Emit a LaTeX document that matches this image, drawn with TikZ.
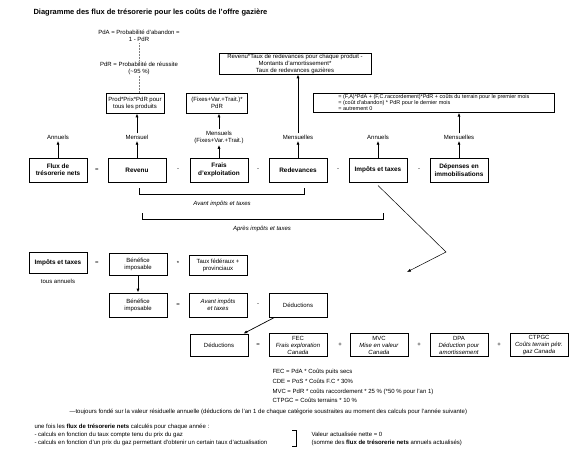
\documentclass[tikz,border=0pt]{standalone}
\usepackage{fontspec}
\setmainfont{Liberation Sans}
\usepackage{tikz}
\usetikzlibrary{arrows.meta}

\tikzset{
  txt/.style={inner sep=0pt, outer sep=1.5pt, align=center, font=\fontsize{6}{7}\selectfont},
  box/.style={draw, line width=0.7pt, minimum width=58pt, minimum height=22pt, inner sep=1pt, align=center, font=\fontsize{6}{7}\selectfont},
  flowbox/.style={box, line width=1pt, minimum height=24pt, font=\fontsize{6.4}{7.4}\selectfont\bfseries},
  upto/.style={-{Latex[length=4pt,width=3pt]}, line width=0.9pt},
  pointer/.style={-{Latex[length=4pt,width=3pt]}, line width=0.5pt},
}

\begin{document}
\begin{tikzpicture}[x=1pt,y=-1pt]
\useasboundingbox (0,0) rectangle (580,452);

\node[anchor=west, font=\fontsize{7.5}{8.5}\selectfont\bfseries] (titre) at (30,12) {Diagramme des flux de trésorerie pour les coûts de l'offre gazière};

\node[txt] (pda) at (139,36) {PdA = Probabilité d'abandon =\\1 - PdR};
\node[txt] (pdr) at (139,68) {PdR = Probabilité de réussite\\(\textasciitilde 95~\%)};
\node[box, minimum height=20pt] (prod) at (135,103) {Prod*Prix*PdR pour\\tous les produits};
\node[box, minimum height=20pt, minimum width=61pt] (fixes) at (217,103) {(Fixes+Var.+Trait.)*\\PdR};
\node[box, minimum width=152pt, minimum height=21pt, inner sep=0.5pt] (redevform) at (295,63.5) {Revenu*Taux de redevances pour chaque produit -\\Montants d'amortissement*\\Taux de redevances gazières};
\node[box, minimum width=241pt, minimum height=18pt, inner sep=1.2pt, align=left, anchor=west, font=\fontsize{5.5}{6}\selectfont] (depform) at (313,103) {= (F,A)*PdA + (F,C.raccordement)*PdR + coûts du terrain pour le premier mois\\= (coût d'abandon) * PdR pour le dernier mois\\= autrement 0};

\draw[densely dotted, gray, line width=0.5pt] (pda.south) -- (pdr.north);
\draw[densely dotted, gray, line width=0.5pt] (pdr.south) -- (pdr.south |- prod.north);

\node[flowbox] (flux) at (58,170) {Flux de\\trésorerie nets};
\node[flowbox] (revenu) at (137,170) {Revenu};
\node[flowbox] (frais) at (219,170) {Frais\\d'exploitation};
\node[flowbox] (redev) at (298,170) {Redevances};
\node[flowbox] (impots) at (378,170) {Impôts et taxes};
\node[flowbox] (depenses) at (459,170) {Dépenses en\\immobilisations};
\node[txt] at (97,170) {=};
\node[txt] at (178,170) {-};
\node[txt] at (258,170) {-};
\node[txt] at (338,170) {-};
\node[txt] at (419,170) {-};

\node[txt] (perflux) at (58,137) {Annuels};
\node[txt] (perrev) at (137,137) {Mensuel};
\node[txt] (perfrais) at (219,137) {Mensuels\\(Fixes+Var.+Trait.)};
\node[txt] (perredev) at (298,137) {Mensuelles};
\node[txt] (perimpots) at (378,137) {Annuels};
\node[txt] (perdep) at (459,137) {Mensuelles};

\draw[upto] (flux) -- (perflux);
\draw[upto] (revenu) -- (perrev);
\draw[upto] (frais) -- (perfrais);
\draw[upto] (redev) -- (perredev);
\draw[upto] (impots) -- (perimpots);
\draw[upto] (depenses) -- (perdep);
\draw[upto] (perrev.north) -- (perrev.north |- prod.south);
\draw[upto] (perfrais.north) -- (perfrais.north |- fixes.south);
\draw[upto] (perredev.north) -- (perredev.north |- redevform.south);
\draw[upto] (perdep.north) -- (perdep.north |- depform.south);

\draw[line width=0.7pt] (139,188) -- (139,194) -- (304,194) -- (304,188);
\node[txt, font=\fontsize{6}{7}\selectfont\itshape] (avantlbl) at (222,204) {Avant impôts et taxes};
\draw[line width=0.7pt] (142,213) -- (142,219) -- (383,219) -- (383,213);
\node[txt, font=\fontsize{6}{7}\selectfont\itshape] (apreslbl) at (262,229) {Après impôts et taxes};

\coordinate (coude) at (446,252);
\coordinate (vers) at (407,272);
\draw[pointer] ([yshift=-3pt]impots.south) -- (coude) -- (vers);

\node[flowbox, minimum height=21pt] (impots2) at (58,263) {Impôts et taxes};
\node[txt] (tous) at (58,281) {tous annuels};
\node[txt] at (97,263) {=};
\node[box] (benef1) at (138,264) {Bénéfice\\imposable};
\node[txt] at (178,263) {*};
\node[box, minimum height=20pt] (taux) at (218,265) {Taux fédéraux +\\provinciaux};

\node[box, minimum height=24pt] (benef2) at (138,305) {Bénéfice\\imposable};
\node[txt] at (178,305) {=};
\node[box, minimum height=24pt, font=\fontsize{6}{7}\selectfont\itshape] (avant) at (218,305) {Avant impôts\\et taxes};
\node[txt] at (258,305) {-};
\node[box, minimum height=24pt] (ded1) at (298,305) {Déductions};

\node[box] (ded2) at (219,345) {Déductions};
\node[txt] at (258,345) {=};
\node[box, minimum height=23pt] (fec) at (298,345) {FEC\\\textit{Frais exploration}\\\textit{Canada}};
\node[txt] at (340,345) {+};
\node[box, minimum height=23pt] (mvc) at (379,345) {MVC\\\textit{Mise en valeur}\\\textit{Canada}};
\node[txt] at (419,345) {+};
\node[box, minimum height=23pt] (dpa) at (459,345) {DPA\\\textit{Déduction pour}\\\textit{amortissement}};
\node[txt] at (499,345) {+};
\node[box, minimum height=23pt] (ctpgc) at (539,345) {CTPGC\\\textit{Coûts terrain pétr.}\\\textit{gaz Canada}};

\draw[upto] (benef1) -- (benef2);
\draw[pointer, line width=0.7pt] ([xshift=6pt]ded1.south west) -- ([xshift=-5pt]ded2.north east);

\node[txt, anchor=north west, align=left, font=\fontsize{6}{9.6}\selectfont] (formules) at (271,368) {FEC = PdA * Coûts puits secs\\CDE = PoS * Coûts F.C * 30\%\\MVC = PdR * coûts raccordement * 25 \% (*50 \% pour l'an 1)\\CTPGC = Coûts terrains * 10 \%};
\node[txt, anchor=west] (toujours) at (68,412) {---toujours fondé sur la valeur résiduelle annuelle (déductions de l'an 1 de chaque catégorie soustraites au moment des calculs pour l'année suivante)};

\node[txt, anchor=north west, align=left, font=\fontsize{6}{8}\selectfont] (unefois) at (33,423) {une fois les \textbf{flux de trésorerie nets} calculés pour chaque année :\\- calculs en fonction du taux compte tenu du prix du gaz\\- calculs en fonction d'un prix du gaz permettant d'obtenir un certain taux d'actualisation};
\draw[line width=0.6pt] (292,430) -- (296,430) -- (296,446) -- (292,446);
\node[txt, anchor=north west, align=left, font=\fontsize{6}{8}\selectfont] (valeur) at (310,431) {Valeur actualisée nette = 0\\(somme des \textbf{flux de trésorerie nets} annuels actualisés)};
\end{tikzpicture}
\end{document}
